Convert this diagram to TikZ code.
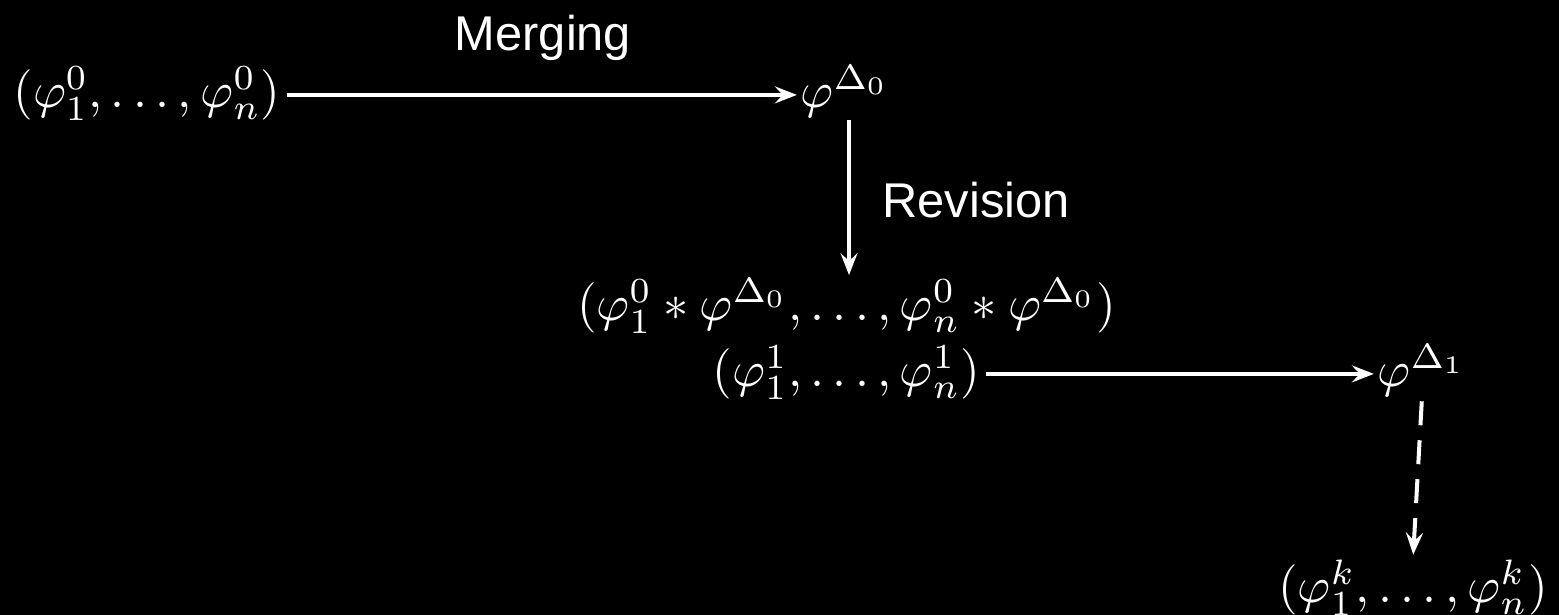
\documentclass[tikz,border=0pt]{standalone}
\usepackage{fontspec}
\setsansfont{Liberation Sans}
\usetikzlibrary{arrows.meta}
\begin{document}
\begin{tikzpicture}[x=0.5pt,y=-0.5pt]
\tikzset{
 mth/.style={text=white, inner sep=0pt, anchor=base, font=\fontsize{10}{12}\selectfont, scale=2.52, transform shape},
 lbl/.style={text=white, inner sep=0pt, font=\fontsize{24.4}{28}\selectfont\sffamily},
 arr/.style={draw=white, line width=2pt, -{Stealth[length=11pt,width=8.5pt,inset=4pt]}},
 dsh/.style={arr, dash pattern=on 12pt off 7.5pt},
}
\fill[black] (0,0) rectangle (1559,615);
\useasboundingbox (0,0) rectangle (1559,615);
\node[mth] (n0) at (147,107.5) {$(\varphi_1^0,\ldots,\varphi_n^0)$};
\node[mth] (d0) at (845,107.5) {$\varphi^{\Delta_0}$};
\node[mth] (m1) at (846.5,320.5) {$(\varphi_1^0*\varphi^{\Delta_0},\ldots,\varphi_n^0*\varphi^{\Delta_0})$};
\node[mth] (m2) at (846.5,386.5) {$(\varphi_1^1,\ldots,\varphi_n^1)$};
\node[mth] (d1) at (1422,386.5) {$\varphi^{\Delta_1}$};
\node[mth] (nk) at (1413,602.5) {$(\varphi_1^k,\ldots,\varphi_n^k)$};
\node[lbl] (lm) at (543,38) {Merging};
\node[lbl] (lr) at (976,200) {Revision};
\draw[arr, shorten <=2.5pt, shorten >=1.5pt] ([yshift=6.3pt]n0.base east) -- ([yshift=6.3pt]d0.base west);
\draw[arr, shorten <=1pt, shorten >=1pt] ([xshift=2pt]d0.south) -- ([xshift=2pt]d0.south |- m1.north);
\draw[arr, shorten <=2.5pt, shorten >=1.5pt] ([yshift=6.3pt]m2.base east) -- ([yshift=6.3pt]d1.base west);
\draw[dsh, shorten <=2pt, shorten >=2pt] (d1.south) -- (nk.north);
\end{tikzpicture}
\end{document}
